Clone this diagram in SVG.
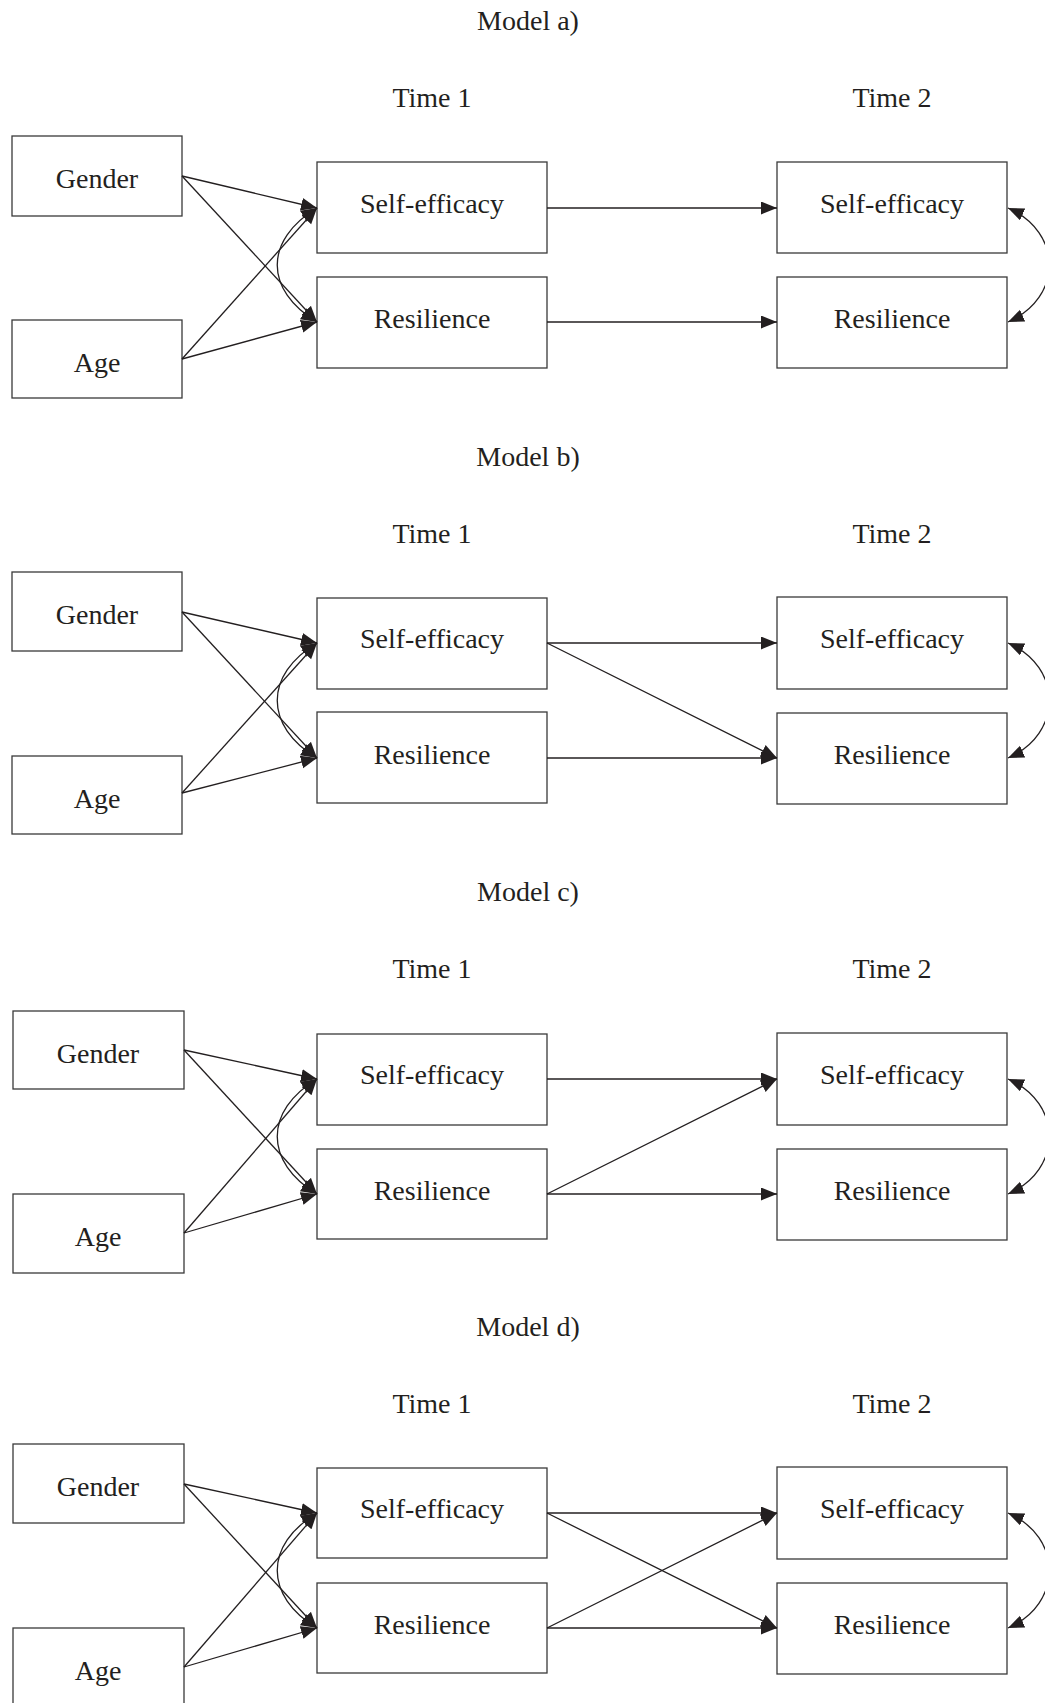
<svg xmlns="http://www.w3.org/2000/svg" width="1045" height="1703" viewBox="0 0 1045 1703">
<defs>
<marker id="ah" markerUnits="userSpaceOnUse" markerWidth="18" markerHeight="14" refX="16" refY="6.5" orient="auto-start-reverse" viewBox="0 0 18 14">
<path d="M0,0 L16,6.5 L0,13 z" fill="#231f20"/>
</marker>
<style>
rect.box{fill:#ffffff;stroke:#3a3a3a;stroke-width:1.3}
text{font-family:"Liberation Serif","Times New Roman",serif;font-size:28px;fill:#231f20;text-anchor:middle}
.c line,.c path{stroke:#231f20;stroke-width:1.3;fill:none;marker-end:url(#ah)}
.c path.dbl{marker-start:url(#ah)}
</style>
</defs>
<rect width="1045" height="1703" fill="#ffffff"/>

<!-- Titles -->
<g id="titles">
<text x="528" y="30">Model a)</text>
<text x="432" y="107">Time 1</text>
<text x="892" y="107">Time 2</text>
<text x="528" y="466">Model b)</text>
<text x="432" y="543">Time 1</text>
<text x="892" y="543">Time 2</text>
<text x="528" y="901">Model c)</text>
<text x="432" y="978">Time 1</text>
<text x="892" y="978">Time 2</text>
<text x="528" y="1336">Model d)</text>
<text x="432" y="1413">Time 1</text>
<text x="892" y="1413">Time 2</text>
</g>

<!-- Model a nodes -->
<g id="a-gender"><rect class="box" x="12" y="136" width="170" height="80"/><text x="97" y="188">Gender</text></g>
<g id="a-age"><rect class="box" x="12" y="320" width="170" height="78"/><text x="97" y="372">Age</text></g>
<g id="a-se1"><rect class="box" x="317" y="162" width="230" height="91"/><text x="432" y="213">Self-efficacy</text></g>
<g id="a-res1"><rect class="box" x="317" y="277" width="230" height="91"/><text x="432" y="328">Resilience</text></g>
<g id="a-se2"><rect class="box" x="777" y="162" width="230" height="91"/><text x="892" y="213">Self-efficacy</text></g>
<g id="a-res2"><rect class="box" x="777" y="277" width="230" height="91"/><text x="892" y="328">Resilience</text></g>

<!-- Model b nodes -->
<g id="b-gender"><rect class="box" x="12" y="572" width="170" height="79"/><text x="97" y="624">Gender</text></g>
<g id="b-age"><rect class="box" x="12" y="756" width="170" height="78"/><text x="97" y="808">Age</text></g>
<g id="b-se1"><rect class="box" x="317" y="598" width="230" height="91"/><text x="432" y="648">Self-efficacy</text></g>
<g id="b-res1"><rect class="box" x="317" y="712" width="230" height="91"/><text x="432" y="764">Resilience</text></g>
<g id="b-se2"><rect class="box" x="777" y="597" width="230" height="92"/><text x="892" y="648">Self-efficacy</text></g>
<g id="b-res2"><rect class="box" x="777" y="713" width="230" height="91"/><text x="892" y="764">Resilience</text></g>

<!-- Model c nodes -->
<g id="c-gender"><rect class="box" x="13" y="1011" width="171" height="78"/><text x="98" y="1063">Gender</text></g>
<g id="c-age"><rect class="box" x="13" y="1194" width="171" height="79"/><text x="98" y="1246">Age</text></g>
<g id="c-se1"><rect class="box" x="317" y="1034" width="230" height="91"/><text x="432" y="1084">Self-efficacy</text></g>
<g id="c-res1"><rect class="box" x="317" y="1149" width="230" height="90"/><text x="432" y="1200">Resilience</text></g>
<g id="c-se2"><rect class="box" x="777" y="1033" width="230" height="92"/><text x="892" y="1084">Self-efficacy</text></g>
<g id="c-res2"><rect class="box" x="777" y="1149" width="230" height="91"/><text x="892" y="1200">Resilience</text></g>

<!-- Model d nodes -->
<g id="d-gender"><rect class="box" x="13" y="1444" width="171" height="79"/><text x="98" y="1496">Gender</text></g>
<g id="d-age"><rect class="box" x="13" y="1628" width="171" height="82"/><text x="98" y="1680">Age</text></g>
<g id="d-se1"><rect class="box" x="317" y="1468" width="230" height="90"/><text x="432" y="1518">Self-efficacy</text></g>
<g id="d-res1"><rect class="box" x="317" y="1583" width="230" height="90"/><text x="432" y="1634">Resilience</text></g>
<g id="d-se2"><rect class="box" x="777" y="1467" width="230" height="92"/><text x="892" y="1518">Self-efficacy</text></g>
<g id="d-res2"><rect class="box" x="777" y="1583" width="230" height="91"/><text x="892" y="1634">Resilience</text></g>

<!-- Connectors -->
<g id="connectors" class="c">
<!-- a -->
<line x1="182" y1="176" x2="317" y2="208"/>
<line x1="182" y1="176" x2="317" y2="322"/>
<line x1="182" y1="359" x2="317" y2="208"/>
<line x1="182" y1="359" x2="317" y2="322"/>
<path class="dbl" d="M317,208 C264,240 264,290 317,322"/>
<line x1="547" y1="208" x2="777" y2="208"/>
<line x1="547" y1="322" x2="777" y2="322"/>
<path class="dbl" d="M1008,208 C1063,232 1063,298 1008,322"/>
<!-- b -->
<line x1="182" y1="612" x2="317" y2="643"/>
<line x1="182" y1="612" x2="317" y2="758"/>
<line x1="182" y1="793" x2="317" y2="643"/>
<line x1="182" y1="793" x2="317" y2="758"/>
<path class="dbl" d="M317,643 C264,675 264,726 317,758"/>
<line x1="547" y1="643" x2="777" y2="643"/>
<line x1="547" y1="643" x2="777" y2="758"/>
<line x1="547" y1="758" x2="777" y2="758"/>
<path class="dbl" d="M1008,643 C1063,667 1063,734 1008,758"/>
<!-- c -->
<line x1="184" y1="1050" x2="317" y2="1079"/>
<line x1="184" y1="1050" x2="317" y2="1194"/>
<line x1="184" y1="1233" x2="317" y2="1079"/>
<line x1="184" y1="1233" x2="317" y2="1194"/>
<path class="dbl" d="M317,1079 C264,1111 264,1162 317,1194"/>
<line x1="547" y1="1079" x2="777" y2="1079"/>
<line x1="547" y1="1194" x2="777" y2="1079"/>
<line x1="547" y1="1194" x2="777" y2="1194"/>
<path class="dbl" d="M1008,1079 C1063,1103 1063,1170 1008,1194"/>
<!-- d -->
<line x1="184" y1="1484" x2="317" y2="1513"/>
<line x1="184" y1="1484" x2="317" y2="1628"/>
<line x1="184" y1="1667" x2="317" y2="1513"/>
<line x1="184" y1="1667" x2="317" y2="1628"/>
<path class="dbl" d="M317,1513 C264,1545 264,1596 317,1628"/>
<line x1="547" y1="1513" x2="777" y2="1513"/>
<line x1="547" y1="1513" x2="777" y2="1628"/>
<line x1="547" y1="1628" x2="777" y2="1513"/>
<line x1="547" y1="1628" x2="777" y2="1628"/>
<path class="dbl" d="M1008,1513 C1063,1537 1063,1604 1008,1628"/>
</g>
</svg>
